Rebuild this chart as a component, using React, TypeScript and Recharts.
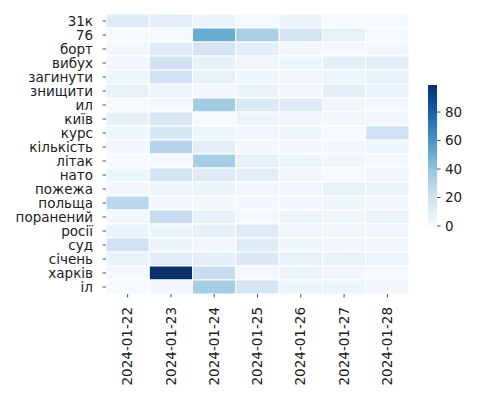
import { BarChart, Bar, XAxis, YAxis, Cell } from "recharts";

const words = [
  "31к", "76", "борт", "вибух", "загинути", "знищити", "ил", "київ", "курс", "кількість",
  "літак", "нато", "пожежа", "польща", "поранений", "росії", "суд", "січень", "харків", "іл",
];
const dates = ["2024-01-22", "2024-01-23", "2024-01-24", "2024-01-25", "2024-01-26", "2024-01-27", "2024-01-28"];

// one row per word, one value per date
const values = [
  [12, 10, 6, 1, 6, 1, 1],
  [1, 1, 50, 33, 18, 8, 1],
  [3, 12, 17, 10, 3, 2, 3],
  [3, 20, 8, 4, 5, 9, 9],
  [5, 20, 8, 4, 3, 5, 8],
  [8, 5, 2, 6, 3, 10, 6],
  [1, 2, 36, 14, 12, 3, 2],
  [8, 15, 1, 5, 4, 3, 3],
  [4, 16, 5, 3, 4, 1, 20],
  [3, 30, 10, 2, 2, 2, 4],
  [1, 2, 34, 8, 5, 3, 2],
  [5, 18, 12, 10, 4, 1, 4],
  [3, 4, 6, 3, 3, 8, 6],
  [28, 2, 2, 2, 2, 4, 2],
  [3, 24, 8, 2, 5, 4, 6],
  [6, 5, 8, 12, 4, 3, 3],
  [20, 6, 3, 12, 4, 3, 2],
  [7, 11, 9, 14, 8, 7, 5],
  [2, 99, 23, 2, 5, 4, 1],
  [1, 2, 35, 16, 5, 5, 3],
];
const colorTicks = [0, 20, 40, 60, 80];
const vmax = 99;

const blues = ["#f7fbff", "#deebf7", "#c6dbef", "#9ecae1", "#6baed6", "#4292c6", "#2171b5", "#08519c", "#08306b"];

function hex(h: string) {
  return [1, 3, 5].map((i) => parseInt(h.slice(i, i + 2), 16));
}
function blue(v: number) {
  const t = Math.max(0, Math.min(1, v / vmax)) * (blues.length - 1);
  const i = Math.min(blues.length - 2, Math.floor(t));
  const f = t - i;
  const a = hex(blues[i]);
  const b = hex(blues[i + 1]);
  const c = a.map((x, k) => Math.round(x + (b[k] - x) * f));
  return `rgb(${c[0]},${c[1]},${c[2]})`;
}

const rows = words.map((w) => {
  const row: any = { word: w };
  dates.forEach((_, c) => {
    row["u" + c] = 1;
  });
  return row;
});

const font = "DejaVu Sans, sans-serif";

function ColorBar() {
  const top = 85;
  const bottom = 226;
  const y = (v: number) => bottom - (v / vmax) * (bottom - top);
  return (
    <svg width={500} height={400} style={{ position: "absolute", left: 0, top: 0, pointerEvents: "none" }}>
      <defs>
        <linearGradient id="cb" x1="0" y1="1" x2="0" y2="0">
          {blues.map((c, i) => (
            <stop key={i} offset={i / (blues.length - 1)} stopColor={c} />
          ))}
        </linearGradient>
      </defs>
      <rect x={428} y={top} width={9} height={bottom - top} fill="url(#cb)" />
      {colorTicks.map((t) => (
        <g key={t}>
          <line x1={437} x2={440.5} y1={y(t)} y2={y(t)} stroke="#222" strokeWidth={0.8} />
          <text x={445} y={y(t)} dy="0.35em" fontSize={13.5} fontFamily={font} fill="#222">
            {t}
          </text>
        </g>
      ))}
    </svg>
  );
}

export default function App() {
  return (
    <div style={{ position: "absolute", left: 0, top: 0, width: 500, height: 400, background: "#fff" }}>
      <BarChart
        width={500}
        height={400}
        data={rows}
        layout="vertical"
        margin={{ top: 14, right: 91, bottom: 0, left: 0 }}
        barCategoryGap={0}
      >
        <XAxis
          type="number"
          domain={[0, dates.length]}
          ticks={dates.map((_, i) => i + 0.5)}
          tickFormatter={(v: number) => dates[Math.floor(v)]}
          axisLine={false}
          tickLine={{ stroke: "#222", strokeWidth: 0.8 }}
          tickSize={3.5}
          height={106}
          angle={-90}
          textAnchor="end"
          dx={-5}
          dy={7.5}
          tick={{ fontSize: 13.5, fontFamily: font, fill: "#222" }}
          interval={0}
        />
        <YAxis
          type="category"
          dataKey="word"
          width={106}
          axisLine={false}
          tickLine={{ stroke: "#222", strokeWidth: 0.8 }}
          tickSize={3.5}
          tickMargin={9.5}
          interval={0}
          tick={{ fontSize: 13.5, fontFamily: font, fill: "#222" }}
        />
        {dates.map((d, c) => (
          <Bar key={d} dataKey={"u" + c} stackId="s" isAnimationActive={false} stroke="#fff" strokeWidth={1}>
            {values.map((row, r) => (
              <Cell key={r} fill={blue(row[c])} />
            ))}
          </Bar>
        ))}
      </BarChart>
      <ColorBar />
    </div>
  );
}
